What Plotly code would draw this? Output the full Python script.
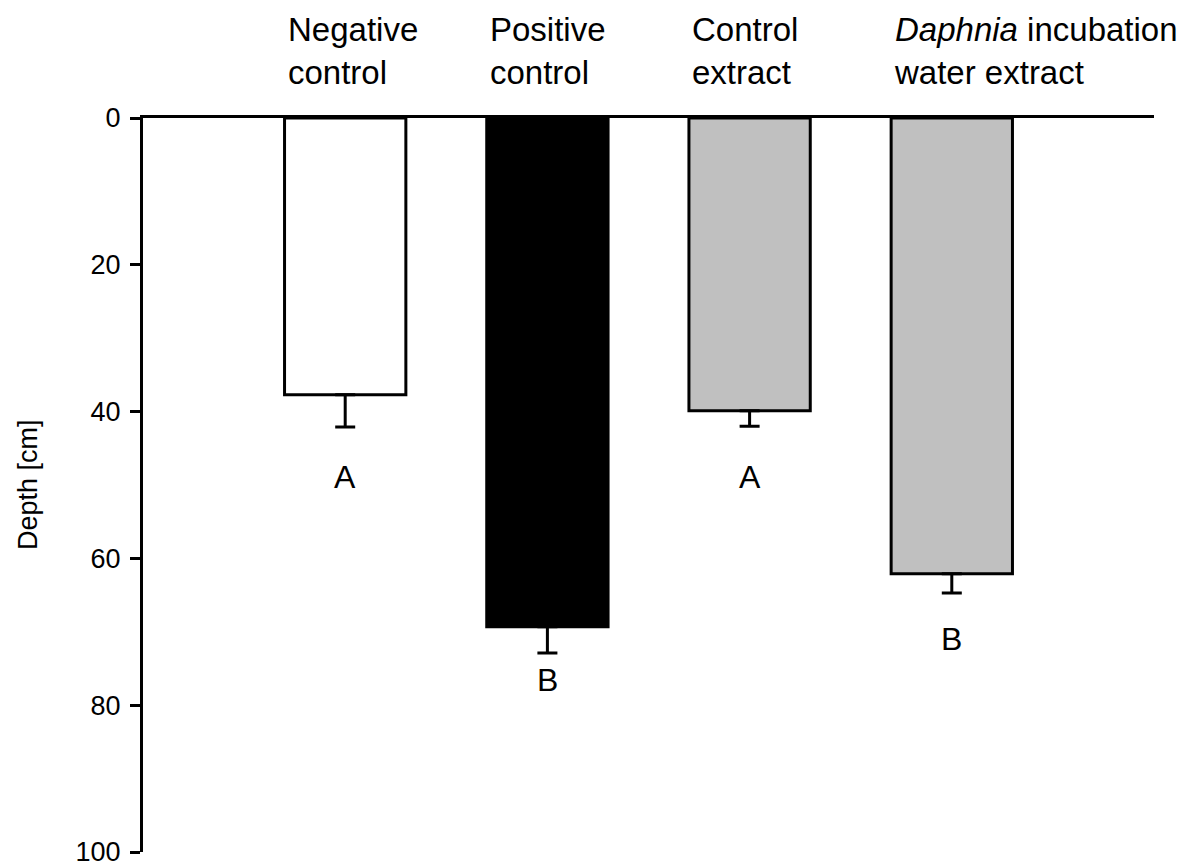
import plotly.graph_objects as go

# Mean depth of the animals per treatment and its (one-sided) standard error
treatments = [
    "Negative<br>control",
    "Positive<br>control",
    "Control<br>extract",
    "<i>Daphnia</i> incubation<br>water extract",
]
depth_mean = [37.7, 69.3, 39.9, 62.1]
depth_err = [4.4, 3.6, 2.1, 2.6]
bar_colors = ["white", "black", "#c0c0c0", "#c0c0c0"]

# Post-hoc group letters and the depth at which each is written
group_letters = ["A", "B", "A", "B"]
letter_depth = [48.9, 76.5, 48.9, 71.0]

y_ticks = [0, 20, 40, 60, 80, 100]

FONT = "Arial, Liberation Sans, Helvetica, sans-serif"
BAR_WIDTH = 0.6
W, H = 1193, 864
M_L, M_R, M_T, M_B = 143, 39, 118, 12
xs = list(range(len(treatments)))

fig = go.Figure()
fig.add_trace(
    go.Bar(
        x=xs,
        y=depth_mean,
        width=BAR_WIDTH,
        marker=dict(color=bar_colors, line=dict(color="black", width=3)),
        error_y=dict(
            type="data",
            symmetric=False,
            array=depth_err,
            arrayminus=[0] * len(depth_err),
            color="black",
            thickness=3,
            width=10,
        ),
        hoverinfo="skip",
    )
)

annotations = []
# Treatment names above the top axis, left-aligned with each bar
for x, name in zip(xs, treatments):
    annotations.append(
        dict(
            x=x - BAR_WIDTH / 2,
            xref="x",
            xanchor="left",
            xshift=1,
            y=1 + (M_T - 51.5) / (H - M_T - M_B),
            yref="paper",
            yanchor="middle",
            text=name,
            showarrow=False,
            align="left",
            font=dict(family=FONT, size=33, color="black"),
        )
    )
# Group letters under the error bars
for x, letter, yl in zip(xs, group_letters, letter_depth):
    annotations.append(
        dict(
            x=x,
            xref="x",
            y=yl,
            yref="y",
            yanchor="middle",
            text=letter,
            showarrow=False,
            font=dict(family=FONT, size=32, color="black"),
        )
    )
# Y-axis title, centred on the plot height
annotations.append(
    dict(
        x=(28 - M_L) / (W - M_L - M_R),
        xref="paper",
        xanchor="center",
        y=0.5,
        yref="paper",
        yanchor="middle",
        text="Depth [cm]",
        textangle=-90,
        showarrow=False,
        font=dict(family=FONT, size=27, color="black"),
    )
)

fig.update_layout(
    width=W,
    height=H,
    margin=dict(l=M_L, r=M_R, t=M_T, b=M_B, autoexpand=False),
    paper_bgcolor="white",
    plot_bgcolor="white",
    showlegend=False,
    annotations=annotations,
    font=dict(family=FONT, color="black"),
)

fig.update_xaxes(
    range=[-1, 4],
    side="top",
    showline=True,
    linecolor="black",
    linewidth=3,
    showticklabels=False,
    ticks="",
    showgrid=False,
    zeroline=False,
)

fig.update_yaxes(
    range=[100, 0],
    tickvals=y_ticks,
    ticktext=[str(v) for v in y_ticks],
    showline=True,
    linecolor="black",
    linewidth=3,
    ticks="outside",
    ticklen=10,
    tickwidth=3,
    tickcolor="black",
    ticklabelstandoff=4,
    ticklabeloverflow="allow",
    tickfont=dict(family=FONT, size=27, color="black"),
    showgrid=False,
    zeroline=False,
    automargin=False,
)

fig.write_html("out.html")
